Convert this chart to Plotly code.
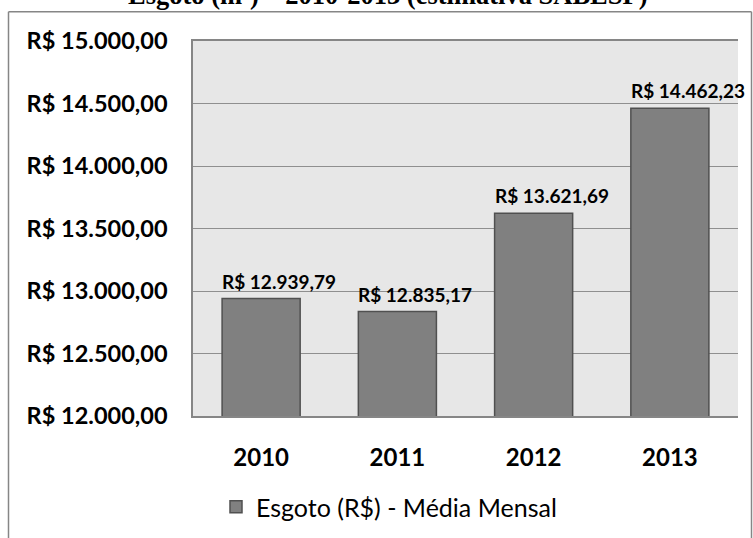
import plotly.graph_objects as go

# ---- data ----
years = ["2010", "2011", "2012", "2013"]
valores = [12939.79, 12835.17, 13621.69, 14462.23]
serie_nome = "Esgoto (R$) - Média Mensal"
titulo = "Esgoto (m³) – 2010-2013 (estimativa SABESP)"
y_tickvals = [12000, 12500, 13000, 13500, 14000, 14500, 15000]
y_ticktext = ["R$ 12.000,00", "R$ 12.500,00", "R$ 13.000,00", "R$ 13.500,00",
              "R$ 14.000,00", "R$ 14.500,00", "R$ 15.000,00"]


def brl(v):
    s = f"{v:,.2f}"
    s = s.replace(",", "X").replace(".", ",").replace("X", ".")
    return "R$ " + s


W, H = 753, 538
ML, MR, MT, MB = 193, 15, 41, 122
PW = W - ML - MR
PH = H - MT - MB


def px2x(px):
    return (px - ML) / PW


def px2y(py):
    return (H - MB - py) / PH


FONT = "Lato"
BAR_W = 0.573

fig = go.Figure()
fig.add_trace(go.Bar(
    x=years, y=valores, name=serie_nome, width=BAR_W,
    marker=dict(color="#808080", line=dict(color="#505050", width=1.5)),
    showlegend=True,
))

# data labels
bar_px = BAR_W * PW / len(years)
for i, v in enumerate(valores):
    fig.add_annotation(
        x=i, y=v, text=brl(v), showarrow=False,
        xanchor="left", yanchor="bottom",
        xshift=-bar_px / 2 - 2, yshift=4,
        font=dict(family=FONT, size=19, color="#000000", weight="bold"),
    )

# title (partially cut at top)
fig.add_annotation(
    x=px2x(388), y=px2y(12), xref="paper", yref="paper",
    text=titulo, showarrow=False, xanchor="center", yanchor="bottom",
    font=dict(family="Liberation Serif", size=26.5, color="#000000", weight="bold"),
)

# outer chart frame
fig.add_shape(type="line", xref="paper", yref="paper",
              x0=px2x(8.5), x1=px2x(8.5), y0=px2y(11.7), y1=px2y(560),
              line=dict(color="#868686", width=1.5))
fig.add_shape(type="line", xref="paper", yref="paper",
              x0=px2x(8.5), x1=px2x(751.5), y0=px2y(11.7), y1=px2y(11.7),
              line=dict(color="#868686", width=1.5))
fig.add_shape(type="line", xref="paper", yref="paper",
              x0=px2x(751.5), x1=px2x(751.5), y0=px2y(11.7), y1=px2y(560),
              line=dict(color="#868686", width=1.5))

fig.update_layout(
    width=W, height=H,
    margin=dict(l=ML, r=MR, t=MT, b=MB, autoexpand=False),
    paper_bgcolor="#ffffff",
    plot_bgcolor="#e7e7e7",
    bargap=1 - BAR_W,
    xaxis=dict(
        type="category", range=[-0.5, len(years) - 0.5], automargin=False,
        showline=True, linecolor="#868686", linewidth=1.5,
        mirror=True, showgrid=False, ticks="",
        ticklabelstandoff=19,
        tickfont=dict(family=FONT, size=24, color="#000000", weight="bold"),
    ),
    yaxis=dict(
        range=[12000, 15000], tickvals=y_tickvals, ticktext=y_ticktext,
        automargin=False,
        showline=True, linecolor="#868686", linewidth=1.5,
        showgrid=True, gridcolor="#8f8f8f", gridwidth=1, zeroline=False,
        ticks="", ticklabelstandoff=19,
        tickfont=dict(family=FONT, size=23.5, color="#000000", weight="bold"),
    ),
    legend=dict(
        orientation="h", x=px2x(216), y=px2y(507), xanchor="left", yanchor="middle",
        font=dict(family=FONT, size=25, color="#000000"),
        bgcolor="rgba(0,0,0,0)", itemwidth=30,
    ),
)

fig.write_html("out.html")
